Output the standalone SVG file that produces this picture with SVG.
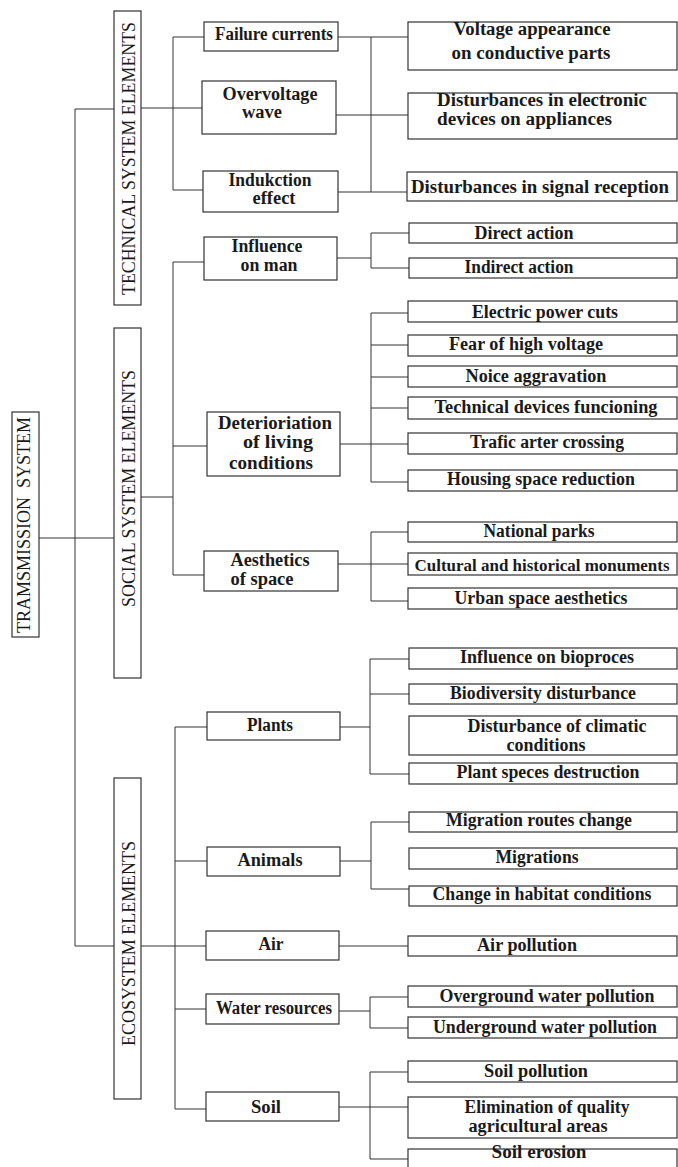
<svg xmlns="http://www.w3.org/2000/svg" width="678" height="1167" viewBox="0 0 678 1167">
<style>
.box{fill:#fff;stroke:#333;stroke-width:1.2}
.c{stroke:#333;stroke-width:1;fill:none}
.t{font-family:"Liberation Serif","Times New Roman",serif;font-weight:bold;font-size:18px;fill:#1a1a1a;text-anchor:middle}
.s{text-anchor:start}
.v{font-family:"Liberation Serif","Times New Roman",serif;font-weight:normal;font-size:19px;fill:#1a1a1a;text-anchor:middle}
</style>
<rect width="678" height="1167" fill="#fff"/>
<g id="connectors">
<path class="c" d="M75,109V946M75,109H114M39,538H114M75,946H114"/>
<path class="c" d="M141,108H202M173,37V190M173,37H204M173,190H203"/>
<path class="c" d="M338,37H408M371,37V192M336,115H408M338,192H407"/>
<path class="c" d="M141,497H173M173,262V575M173,262H204M173,446H207M173,575H204"/>
<path class="c" d="M337,258H371M371,233V268M371,233H409M371,268H409"/>
<path class="c" d="M340,444H408M371,313V482M371,313H408M371,345H408M371,377H408M371,408H408M371,482H408"/>
<path class="c" d="M338,564H408M371,532V601M371,532H408M371,601H408"/>
<path class="c" d="M141,946H206M175,727V1109M175,727H207M175,861H207M175,1009H206M175,1109H206"/>
<path class="c" d="M340,727H370M370,659V774M370,659H409M370,694H409M370,774H409"/>
<path class="c" d="M340,861H371M371,822V889M371,822H409M371,889H409"/>
<path class="c" d="M339,946H408"/>
<path class="c" d="M339,1011H370M370,997V1028M370,997H408M370,1028H408"/>
<path class="c" d="M339,1107H408M370,1072V1159M370,1072H408M370,1159H408"/>
</g>
<g id="transmission"><rect class="box" x="12" y="412" width="27" height="225"/><text class="v" transform="translate(30,525) rotate(-90)" textLength="216" lengthAdjust="spacingAndGlyphs" xml:space="preserve">TRAMSMISSION  SYSTEM</text></g>
<g id="technical"><rect class="box" x="114" y="11" width="27" height="294"/><text class="v" transform="translate(135,158.5) rotate(-90)" textLength="273" lengthAdjust="spacingAndGlyphs">TECHNICAL SYSTEM ELEMENTS</text></g>
<g id="social"><rect class="box" x="114" y="328" width="27" height="350"/><text class="v" transform="translate(135,488.5) rotate(-90)" textLength="237" lengthAdjust="spacingAndGlyphs">SOCIAL SYSTEM ELEMENTS</text></g>
<g id="ecosystem"><rect class="box" x="114" y="778" width="27" height="321"/><text class="v" transform="translate(135,943.5) rotate(-90)" textLength="205" lengthAdjust="spacingAndGlyphs">ECOSYSTEM ELEMENTS</text></g>

<g id="failure"><rect class="box" x="204" y="22" width="134" height="29"/><text class="t" x="274" y="40" textLength="118" lengthAdjust="spacingAndGlyphs">Failure currents</text></g>
<g id="overvoltage"><rect class="box" x="202" y="81" width="134" height="53"/><text class="t" x="270" y="100" textLength="95" lengthAdjust="spacingAndGlyphs">Overvoltage</text><text class="t" x="262" y="118" textLength="40" lengthAdjust="spacingAndGlyphs">wave</text></g>
<g id="indukction"><rect class="box" x="203" y="171" width="135" height="41"/><text class="t" x="270" y="186" textLength="83" lengthAdjust="spacingAndGlyphs">Indukction</text><text class="t" x="274" y="204" textLength="43" lengthAdjust="spacingAndGlyphs">effect</text></g>
<g id="influence"><rect class="box" x="204" y="237" width="133" height="43"/><text class="t" x="267" y="252" textLength="71" lengthAdjust="spacingAndGlyphs">Influence</text><text class="t" x="269" y="271" textLength="57" lengthAdjust="spacingAndGlyphs">on man</text></g>
<g id="deterioriation"><rect class="box" x="207" y="412" width="133" height="64"/><text class="t" x="275" y="429" textLength="114" lengthAdjust="spacingAndGlyphs">Deterioriation</text><text class="t" x="278" y="448" textLength="70" lengthAdjust="spacingAndGlyphs">of living</text><text class="t" x="271" y="469" textLength="84" lengthAdjust="spacingAndGlyphs">conditions</text></g>
<g id="aesthetics"><rect class="box" x="204" y="551" width="134" height="40"/><text class="t" x="270" y="566" textLength="79" lengthAdjust="spacingAndGlyphs">Aesthetics</text><text class="t" x="262" y="585" textLength="63" lengthAdjust="spacingAndGlyphs">of space</text></g>
<g id="plants"><rect class="box" x="207" y="712" width="133" height="28"/><text class="t" x="270" y="731" textLength="46" lengthAdjust="spacingAndGlyphs">Plants</text></g>
<g id="animals"><rect class="box" x="207" y="847" width="133" height="29"/><text class="t" x="270" y="866" textLength="65" lengthAdjust="spacingAndGlyphs">Animals</text></g>
<g id="air"><rect class="box" x="206" y="931" width="133" height="29"/><text class="t" x="271" y="950" textLength="25" lengthAdjust="spacingAndGlyphs">Air</text></g>
<g id="water"><rect class="box" x="206" y="994" width="133" height="30"/><text class="t" x="274" y="1014" textLength="116" lengthAdjust="spacingAndGlyphs">Water resources</text></g>
<g id="soil"><rect class="box" x="206" y="1092" width="133" height="29"/><text class="t" x="266" y="1113" textLength="30" lengthAdjust="spacingAndGlyphs">Soil</text></g>

<g id="voltage"><rect class="box" x="408" y="22" width="269" height="48"/><text class="t" x="532" y="35" textLength="157" lengthAdjust="spacingAndGlyphs">Voltage appearance</text><text class="t" x="531" y="59" textLength="159" lengthAdjust="spacingAndGlyphs">on conductive parts</text></g>
<g id="dist-electronic"><rect class="box" x="408" y="93" width="269" height="46"/><text class="t s" x="437" y="106" textLength="210" lengthAdjust="spacingAndGlyphs">Disturbances in electronic</text><text class="t s" x="437" y="125" textLength="175" lengthAdjust="spacingAndGlyphs">devices on appliances</text></g>
<g id="dist-signal"><rect class="box" x="407" y="172" width="270" height="29"/><text class="t" x="540" y="193" style="font-size:19px" textLength="258" lengthAdjust="spacingAndGlyphs">Disturbances in signal reception</text></g>
<g id="direct"><rect class="box" x="409" y="223" width="268" height="20"/><text class="t" x="524" y="239" textLength="99" lengthAdjust="spacingAndGlyphs">Direct action</text></g>
<g id="indirect"><rect class="box" x="409" y="258" width="268" height="20"/><text class="t" x="519" y="273" textLength="109" lengthAdjust="spacingAndGlyphs">Indirect action</text></g>
<g id="electric"><rect class="box" x="408" y="301" width="269" height="21"/><text class="t" x="545" y="318" textLength="146" lengthAdjust="spacingAndGlyphs">Electric power cuts</text></g>
<g id="fear"><rect class="box" x="408" y="335" width="269" height="21"/><text class="t" x="526" y="350" textLength="154" lengthAdjust="spacingAndGlyphs">Fear of high voltage</text></g>
<g id="noice"><rect class="box" x="408" y="366" width="269" height="21"/><text class="t" x="536" y="382" textLength="141" lengthAdjust="spacingAndGlyphs">Noice aggravation</text></g>
<g id="techdev"><rect class="box" x="408" y="397" width="269" height="22"/><text class="t" x="546" y="413" textLength="223" lengthAdjust="spacingAndGlyphs">Technical devices funcioning</text></g>
<g id="trafic"><rect class="box" x="408" y="433" width="269" height="21"/><text class="t" x="547" y="448" textLength="154" lengthAdjust="spacingAndGlyphs">Trafic arter crossing</text></g>
<g id="housing"><rect class="box" x="408" y="470" width="269" height="21"/><text class="t" x="541" y="485" textLength="188" lengthAdjust="spacingAndGlyphs">Housing space reduction</text></g>
<g id="national"><rect class="box" x="408" y="522" width="269" height="20"/><text class="t" x="539" y="537" textLength="111" lengthAdjust="spacingAndGlyphs">National parks</text></g>
<g id="cultural"><rect class="box" x="408" y="553" width="269" height="22"/><text class="t" x="542" y="571" style="font-size:17px" textLength="255" lengthAdjust="spacingAndGlyphs">Cultural and historical monuments</text></g>
<g id="urban"><rect class="box" x="408" y="588" width="269" height="21"/><text class="t" x="541" y="604" textLength="173" lengthAdjust="spacingAndGlyphs">Urban space aesthetics</text></g>
<g id="bioproces"><rect class="box" x="409" y="648" width="268" height="21"/><text class="t" x="547" y="663" textLength="174" lengthAdjust="spacingAndGlyphs">Influence on bioproces</text></g>
<g id="biodiversity"><rect class="box" x="409" y="684" width="268" height="20"/><text class="t" x="543" y="699" textLength="186" lengthAdjust="spacingAndGlyphs">Biodiversity disturbance</text></g>
<g id="climatic"><rect class="box" x="409" y="716" width="268" height="39"/><text class="t" x="557" y="732" textLength="179" lengthAdjust="spacingAndGlyphs">Disturbance of climatic</text><text class="t" x="546" y="751" textLength="79" lengthAdjust="spacingAndGlyphs">conditions</text></g>
<g id="plantspeces"><rect class="box" x="409" y="763" width="268" height="21"/><text class="t" x="548" y="778" textLength="183" lengthAdjust="spacingAndGlyphs">Plant speces destruction</text></g>
<g id="routes"><rect class="box" x="409" y="812" width="268" height="20"/><text class="t" x="539" y="826" textLength="186" lengthAdjust="spacingAndGlyphs">Migration routes change</text></g>
<g id="migrations"><rect class="box" x="409" y="848" width="268" height="21"/><text class="t" x="537" y="863" textLength="83" lengthAdjust="spacingAndGlyphs">Migrations</text></g>
<g id="habitat"><rect class="box" x="409" y="886" width="268" height="20"/><text class="t" x="542" y="900" textLength="219" lengthAdjust="spacingAndGlyphs">Change in habitat conditions</text></g>
<g id="airpollution"><rect class="box" x="408" y="936" width="269" height="20"/><text class="t" x="527" y="951" textLength="100" lengthAdjust="spacingAndGlyphs">Air pollution</text></g>
<g id="overground"><rect class="box" x="408" y="986" width="269" height="21"/><text class="t" x="547" y="1002" textLength="215" lengthAdjust="spacingAndGlyphs">Overground water pollution</text></g>
<g id="underground"><rect class="box" x="408" y="1017" width="269" height="21"/><text class="t" x="545" y="1033" textLength="224" lengthAdjust="spacingAndGlyphs">Underground water pollution</text></g>
<g id="soilpollution"><rect class="box" x="408" y="1061" width="269" height="21"/><text class="t" x="536" y="1077" textLength="104" lengthAdjust="spacingAndGlyphs">Soil pollution</text></g>
<g id="elimination"><rect class="box" x="408" y="1097" width="269" height="41"/><text class="t" x="547" y="1113" textLength="165" lengthAdjust="spacingAndGlyphs">Elimination of quality</text><text class="t" x="538" y="1132" textLength="139" lengthAdjust="spacingAndGlyphs">agricultural areas</text></g>
<g id="erosion"><rect class="box" x="408" y="1149" width="269" height="30"/><text class="t" x="539" y="1158" textLength="95" lengthAdjust="spacingAndGlyphs">Soil erosion</text></g>
</svg>
